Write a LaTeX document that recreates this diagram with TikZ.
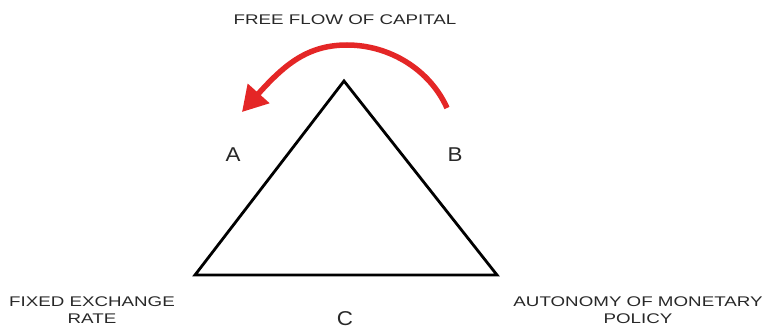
\documentclass[tikz,border=0pt]{standalone}
\usepackage{fontspec}
\setmainfont{Liberation Sans}
\usetikzlibrary{arrows.meta}
\definecolor{arrowred}{RGB}{228,38,38}
\definecolor{txtgray}{RGB}{40,40,40}
\newcommand{\wide}[1]{\scalebox{1.34}[1]{#1}}
\newcommand{\wideletter}[1]{\scalebox{1.12}[1]{#1}}
\tikzset{
  lbl/.style={text=txtgray, font=\fontsize{14}{17}\selectfont, align=center, inner sep=0pt},
  letter/.style={text=txtgray, font=\fontsize{20}{22}\selectfont, inner sep=0pt},
  tri/.style={draw=black, line width=2.8pt, line join=miter},
  flow/.style={draw=arrowred, line width=5.5pt, -{Triangle[length=25pt,width=28pt]}}
}
\begin{document}
\begin{tikzpicture}[x=1pt,y=-1pt]
\useasboundingbox (0,0) rectangle (767,329);
\coordinate (top) at (344,81);
\coordinate (bl) at (195,275);
\coordinate (br) at (497,275);
\draw[tri] (top) -- (br) -- (bl) -- cycle;
\coordinate (s) at (447,108);
\coordinate (pk) at (347,45);
\coordinate (e) at (242,112);
\draw[flow] (s) .. controls (430,70) and (390,45) .. (pk)
                .. controls (308,45) and (285,64) .. (e);
\node[lbl] (cap) at (345,19.5) {\wide{FREE FLOW OF CAPITAL}};
\node[letter] (A) at (233,155) {\wideletter{A}};
\node[letter] (B) at (455,155) {\wideletter{B}};
\node[letter] (C) at (345,319) {\wideletter{C}};
\node[lbl] (fx) at (92,310) {\wide{FIXED EXCHANGE}\\\wide{RATE}};
\node[lbl] (am) at (638,310) {\wide{AUTONOMY OF MONETARY}\\\wide{POLICY}};
\end{tikzpicture}
\end{document}
